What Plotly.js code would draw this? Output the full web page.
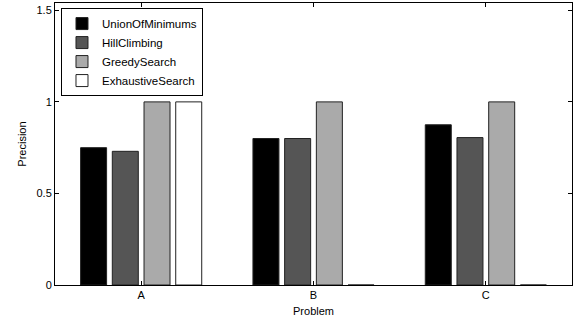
<!DOCTYPE html>
<html>
<head>
<meta charset="utf-8">
<script src="https://cdn.plot.ly/plotly-3.0.1.min.js"></script>
<style>html,body{margin:0;padding:0;background:#fff;}#chart{width:579px;height:322px;}</style>
</head>
<body>
<div id="chart"></div>
<script>
var categories = [1, 2, 3];
var tickLabels = ["A", "B", "C"];
var seriesNames = ["UnionOfMinimums", "HillClimbing", "GreedySearch", "ExhaustiveSearch"];
var unionOfMinimums = [0.75, 0.80, 0.875];
var hillClimbing = [0.73, 0.80, 0.805];
var greedySearch = [1.0, 1.0, 1.0];
var exhaustiveSearch = [1.0, 0, 0];
var colors = ["#000000", "#555555", "#aaaaaa", "#ffffff"];

var allSeries = [unionOfMinimums, hillClimbing, greedySearch, exhaustiveSearch];
var traces = allSeries.map(function (vals, i) {
  return {
    type: "bar",
    x: categories,
    y: vals,
    name: seriesNames[i],
    marker: {color: colors[i], line: {color: "#222", width: 1}},
    hoverinfo: "none"
  };
});

var font = {family: "Liberation Sans, Arial, sans-serif", size: 11, color: "#000"};
var layout = {
  width: 579, height: 322,
  margin: {l: 55, r: 7, t: 3, b: 37},
  paper_bgcolor: "#fff", plot_bgcolor: "#fff",
  font: font,
  barmode: "group",
  bargap: 0.264,
  bargroupgap: 0.18,
  showlegend: true,
  legend: {
    x: 0.0116, y: 0.982, xanchor: "left", yanchor: "top",
    bordercolor: "#000", borderwidth: 1, bgcolor: "#fff",
    font: {family: font.family, size: 11.5, color: "#000"},
    tracegroupgap: 0,
    itemwidth: 30
  },
  xaxis: {
    range: [0.5, 3.5],
    tickvals: categories, ticktext: tickLabels,
    ticks: "inside", ticklen: 4, tickcolor: "#000",
    showline: true, linecolor: "#000", linewidth: 1, mirror: "ticks",
    showgrid: false, zeroline: false,
    tickfont: {family: font.family, size: 11, color: "#000"},
    title: {text: "Problem", font: {family: font.family, size: 11, color: "#000"}, standoff: 7}
  },
  yaxis: {
    range: [0, 1.54],
    tickvals: [0, 0.5, 1, 1.5], ticktext: ["0", "0.5", "1", "1.5"],
    ticks: "inside", ticklen: 4, tickcolor: "#000",
    showline: true, linecolor: "#000", linewidth: 1, mirror: "ticks",
    showgrid: false, zeroline: false,
    tickfont: {family: font.family, size: 11, color: "#000"},
    title: {text: "Precision", font: {family: font.family, size: 11, color: "#000"}, standoff: 7}
  }
};

Plotly.newPlot("chart", traces, layout, {displayModeBar: false, staticPlot: true});
</script>
</body>
</html>
